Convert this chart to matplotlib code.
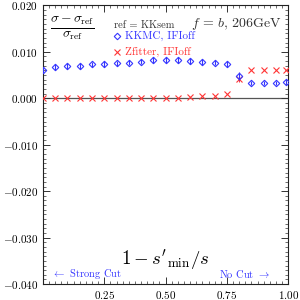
import matplotlib
matplotlib.use("Agg")
import matplotlib.pyplot as plt
from matplotlib.ticker import MultipleLocator, FuncFormatter

plt.rcParams['font.family'] = 'serif'
plt.rcParams['font.serif'] = ['cmr10', 'DejaVu Serif']
plt.rcParams['mathtext.fontset'] = 'cm'
plt.rcParams['axes.formatter.use_mathtext'] = True

# 1 - s'min/s
x_cut = [0.00, 0.05, 0.10, 0.15, 0.20, 0.25, 0.30, 0.35, 0.40, 0.45, 0.50,
         0.55, 0.60, 0.65, 0.70, 0.75, 0.80, 0.85, 0.90, 0.95, 0.99]
# KKMC, IFIoff
kkmc = [0.0061, 0.0067, 0.0070, 0.0070, 0.0073, 0.0074, 0.0075, 0.0077, 0.0079, 0.0082, 0.0082,
        0.0082, 0.0080, 0.0078, 0.0077, 0.0074, 0.0048, 0.0033, 0.0033, 0.0033, 0.0035]
kkmc_err = [0.0006, 0.0006, 0.0006, 0.0006, 0.0006, 0.0006, 0.0006, 0.0006, 0.0006, 0.0006, 0.0006,
            0.0006, 0.0006, 0.0006, 0.0006, 0.0006, 0.0008, 0.0004, 0.0004, 0.0004, 0.0004]
# Zfitter, IFIoff
zfitter = [0.0000, 0.0000, 0.0000, 0.0000, 0.0000, 0.0000, 0.0000, 0.0000, 0.0000, 0.0001, 0.0001,
           0.0001, 0.0002, 0.0004, 0.0006, 0.0009, 0.0041, 0.0062, 0.0062, 0.0062, 0.0062]
zfitter_err = [0, 0, 0, 0, 0, 0, 0, 0, 0, 0, 0,
               0, 0, 0, 0, 0, 0.0006, 0, 0, 0, 0]

blue = '#3535ff'
red = '#ff3535'

fig = plt.figure(figsize=(3, 3), dpi=100)
ax = fig.add_axes([0.143, 0.053, 0.818, 0.929])

ax.axhline(0, color='#555555', lw=0.9, zorder=1)

ax.errorbar(x_cut, zfitter, yerr=zfitter_err, fmt='x', ms=5, color=red, mew=0.8,
            ecolor=red, elinewidth=0.7, capsize=0, zorder=3)
ax.errorbar(x_cut, kkmc, yerr=kkmc_err, fmt='D', ms=3.3, mfc='none', mec=blue,
            mew=0.8, ecolor=blue, elinewidth=0.8, capsize=0, zorder=4)

ax.set_xlim(0, 1)
ax.set_ylim(-0.04, 0.02)
ax.set_xticks([0.25, 0.5, 0.75, 1.0])
ax.xaxis.set_minor_locator(MultipleLocator(0.025))
ax.yaxis.set_major_locator(MultipleLocator(0.01))
ax.yaxis.set_minor_locator(MultipleLocator(0.001))
ax.xaxis.set_major_formatter(FuncFormatter(lambda v, p: r'$%.2f$' % v))
ax.yaxis.set_major_formatter(FuncFormatter(lambda v, p: r'$%.3f$' % v))
ax.tick_params(which='both', direction='in', top=True, right=True, labelsize=8,
               color='#333333')
ax.tick_params(which='major', length=5, width=0.7)
ax.tick_params(which='minor', length=2.5, width=0.5)
for s in ax.spines.values():
    s.set_linewidth(0.8)
    s.set_color('#222222')

tr = ax.transAxes
ax.text(0.121, 0.919, r'$\frac{\sigma-\sigma_{\rm ref}}{\sigma_{\rm ref}}$', transform=tr,
        fontsize=14, ha='center', va='center')
ax.text(0.290, 0.929, 'ref = KKsem', transform=tr, fontsize=7.5,
        ha='left', va='center', color='#333333')
ax.plot([0.302], [0.890], 'D', ms=3.3, mfc='none', mec=blue, mew=0.8, transform=tr)
ax.text(0.334, 0.890, 'KKMC, IFIoff', transform=tr, fontsize=8,
        ha='left', va='center', color=blue)
ax.plot([0.302], [0.834], 'x', ms=4.5, color=red, mew=0.8, transform=tr)
ax.text(0.334, 0.834, 'Zfitter, IFIoff', transform=tr, fontsize=8,
        ha='left', va='center', color=red)
ax.text(0.973, 0.935, r'$f\,=\,b$, 206GeV', transform=tr, fontsize=10,
        ha='right', va='center', color='#333333')
ax.text(0.498, 0.068, r"$1-s'_{\rm min}/s$", transform=tr, fontsize=13.5,
        ha='center', va='baseline')
ax.text(0.037, 0.035, r'$\leftarrow$ Strong Cut', transform=tr, fontsize=7.5,
        ha='left', va='center', color=blue)
ax.text(0.925, 0.035, r'No Cut $\rightarrow$', transform=tr, fontsize=7.5,
        ha='right', va='center', color=blue)

fig.savefig('out.png', dpi=100)
